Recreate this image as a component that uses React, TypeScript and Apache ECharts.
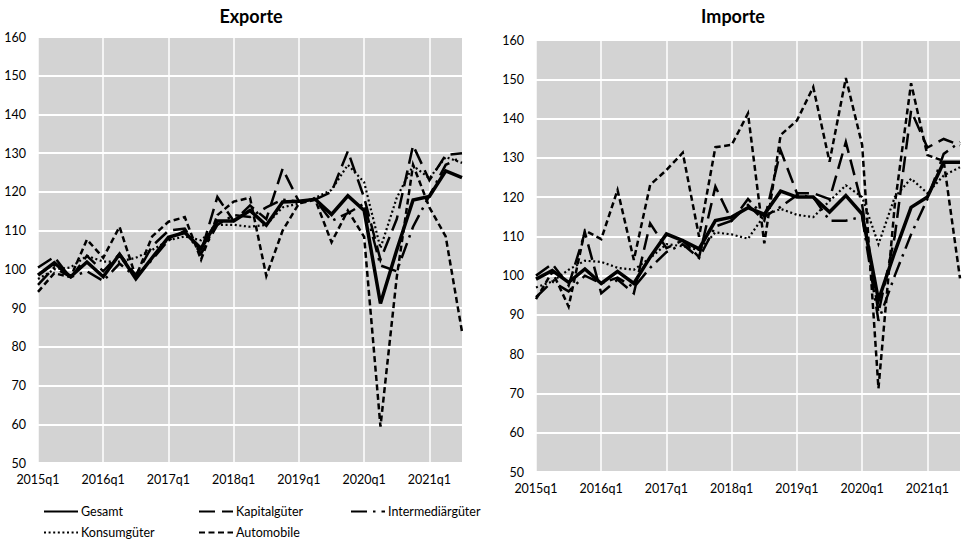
import React, { useEffect, useRef } from "react";
import * as echarts from "echarts";

const quarters = [
  "2015q1", "2015q2", "2015q3", "2015q4",
  "2016q1", "2016q2", "2016q3", "2016q4",
  "2017q1", "2017q2", "2017q3", "2017q4",
  "2018q1", "2018q2", "2018q3", "2018q4",
  "2019q1", "2019q2", "2019q3", "2019q4",
  "2020q1", "2020q2", "2020q3", "2020q4",
  "2021q1", "2021q2", "2021q3",
];

const yTicks = { min: 50, max: 160, interval: 10 };

// Exporte
const exGesamt = [98.5, 101.7, 98.1, 101.9, 98.1, 103.9, 97.6, 103.0, 108.3, 109.5, 105.4, 112.5, 112.5, 115.2, 111.4, 117.4, 117.6, 118.1, 114.2, 119.0, 115.2, 91.2, 105.0, 117.9, 118.8, 125.4, 123.7];
const exKapital = [100.5, 103.2, 97.8, 103.5, 99.5, 104.0, 98.5, 106.0, 110.0, 110.5, 104.5, 118.7, 112.5, 116.5, 113.0, 126.0, 117.5, 118.0, 120.0, 130.5, 118.5, 102.5, 113.0, 132.0, 123.0, 129.5, 130.0];
const exIntermediaer = [96.0, 100.5, 98.0, 99.5, 97.0, 101.5, 98.0, 102.5, 107.5, 110.0, 104.0, 111.5, 114.0, 113.5, 116.0, 118.0, 117.5, 118.0, 112.5, 114.5, 117.0, 101.0, 99.5, 111.0, 119.0, 127.0, 129.0];
const exKonsum = [97.5, 100.0, 100.5, 103.5, 102.0, 102.0, 103.0, 105.0, 107.5, 108.5, 107.5, 111.5, 111.5, 111.0, 111.5, 116.0, 117.0, 118.5, 120.5, 127.0, 122.5, 105.5, 118.5, 126.8, 123.5, 129.0, 127.5];
const exAuto = [94.2, 99.0, 98.0, 107.7, 103.0, 111.0, 98.0, 108.5, 112.3, 113.5, 102.5, 114.0, 117.5, 118.5, 98.3, 110.0, 117.0, 118.0, 107.0, 115.2, 108.4, 59.4, 98.0, 127.0, 116.0, 108.5, 83.9];

// Importe
const imGesamt = [99.1, 101.3, 98.3, 101.7, 98.0, 101.1, 98.0, 104.7, 110.6, 108.9, 106.8, 114.0, 114.9, 117.3, 115.6, 121.5, 120.0, 120.0, 116.2, 120.4, 115.7, 93.8, 106.0, 117.4, 120.0, 128.9, 128.9];
const imKapital = [100.0, 103.0, 97.5, 111.0, 95.5, 99.0, 95.5, 113.3, 107.0, 109.0, 104.7, 122.7, 114.0, 118.0, 114.0, 131.9, 121.0, 121.0, 119.5, 134.0, 118.0, 90.5, 110.0, 142.0, 132.6, 134.8, 133.2];
const imIntermediaer = [94.5, 98.5, 96.0, 100.0, 98.0, 99.5, 97.0, 102.0, 106.0, 108.0, 104.5, 112.5, 114.0, 119.5, 115.0, 117.5, 120.5, 120.0, 114.0, 114.0, 115.0, 88.5, 100.0, 110.5, 119.5, 131.0, 134.0];
const imKonsum = [97.0, 98.5, 101.5, 103.8, 103.5, 102.0, 101.5, 104.5, 108.0, 107.5, 106.5, 111.0, 110.5, 109.4, 115.3, 117.0, 115.5, 114.9, 119.0, 123.0, 120.0, 108.0, 120.0, 124.7, 121.0, 125.5, 127.6];
const imAuto = [94.0, 101.0, 92.1, 111.5, 109.3, 121.8, 104.0, 123.1, 126.9, 131.3, 109.9, 132.7, 133.3, 141.3, 108.2, 135.8, 139.5, 148.0, 129.0, 150.3, 133.3, 71.3, 118.0, 149.0, 130.7, 129.2, 99.3];

const seriesNames = ["Gesamt", "Kapitalgüter", "Intermediärgüter", "Konsumgüter", "Automobile"];
const panelTitles = ["Exporte", "Importe"];

const FONT = "Lato, 'Open Sans', sans-serif";

const styles: Record<string, any> = {
  Gesamt: { width: 3.5, type: "solid" },
  "Kapitalgüter": { width: 2.5, type: [16, 7] },
  "Intermediärgüter": { width: 2.5, type: [16, 6, 2.5, 6] },
  "Konsumgüter": { width: 2.2, type: [2, 2.6] },
  Automobile: { width: 2.5, type: [6, 3.5] },
};

export default function App() {
  const ref = useRef<HTMLDivElement>(null);
  useEffect(() => {
    document.body.style.margin = "0";
    const chart = echarts.init(ref.current!, null, { renderer: "svg" });
    const exData = [exGesamt, exKapital, exIntermediaer, exKonsum, exAuto];
    const imData = [imGesamt, imKapital, imIntermediaer, imKonsum, imAuto];

    const mk = (name: string, data: number[], g: number) => ({
      name,
      type: "line",
      xAxisIndex: g,
      yAxisIndex: g,
      data,
      symbol: "none",
      lineStyle: { color: "#000", width: styles[name].width, type: styles[name].type, cap: "butt", join: "miter" },
      itemStyle: { color: "#000" },
      z: name === "Gesamt" ? 5 : 3,
    });

    const series: any[] = [];
    seriesNames.forEach((n, k) => series.push(mk(n, exData[k], 0)));
    seriesNames.forEach((n, k) => series.push(mk(n, imData[k], 1)));

    const grids = [
      { left: 38, top: 37, width: 424, height: 426 },
      { left: 536, top: 40, width: 424, height: 432 },
    ];

    const xAxis = grids.map((_, g) => ({
      type: "category",
      gridIndex: g,
      data: quarters,
      boundaryGap: false,
      axisLine: { show: false },
      axisTick: { show: false },
      axisLabel: { interval: 3, color: "#000", fontSize: 12.5, fontFamily: FONT, margin: 10 },
      splitLine: { show: true, interval: 3, lineStyle: { color: "#ffffff", width: 1.5 } },
    }));
    const yAxis = grids.map((_, g) => ({
      type: "value",
      gridIndex: g,
      min: yTicks.min,
      max: yTicks.max,
      interval: yTicks.interval,
      axisLine: { show: false },
      axisTick: { show: false },
      axisLabel: { color: "#000", fontSize: 12.5, fontFamily: FONT, margin: 12 },
      splitLine: { show: true, lineStyle: { color: "#ffffff", width: 2 } },
    }));

    const legendPos = [
      { left: 43, top: 505 },
      { left: 198, top: 505 },
      { left: 350, top: 505 },
      { left: 43, top: 526 },
      { left: 198, top: 526 },
    ];
    const legend = seriesNames.map((n, k) => ({
      data: [n],
      left: legendPos[k].left,
      top: legendPos[k].top,
      itemWidth: 34,
      itemHeight: 14,
      itemGap: 0,
      padding: 0,
      itemStyle: { opacity: 0, borderWidth: 0 },
      textStyle: { color: "#000", fontSize: 12.5, fontFamily: FONT, padding: [0, 0, 0, -2] },
      selectedMode: false,
    }));

    chart.setOption({
      animation: false,
      backgroundColor: "#ffffff",
      title: [
        { text: panelTitles[0], left: 246, top: 2, textAlign: "center", textStyle: { fontSize: 18, fontWeight: "bold", fontFamily: FONT, color: "#000" } },
        { text: panelTitles[1], left: 728, top: 2, textAlign: "center", textStyle: { fontSize: 18, fontWeight: "bold", fontFamily: FONT, color: "#000" } },
      ],
      grid: grids.map((g) => ({ ...g, show: true, backgroundColor: "#d3d3d3", borderWidth: 0 })),
      xAxis,
      yAxis,
      legend,
      series,
    });
    return () => chart.dispose();
  }, []);
  return <div ref={ref} style={{ width: 963, height: 542, position: "absolute", left: 0, top: 0 }} />;
}
